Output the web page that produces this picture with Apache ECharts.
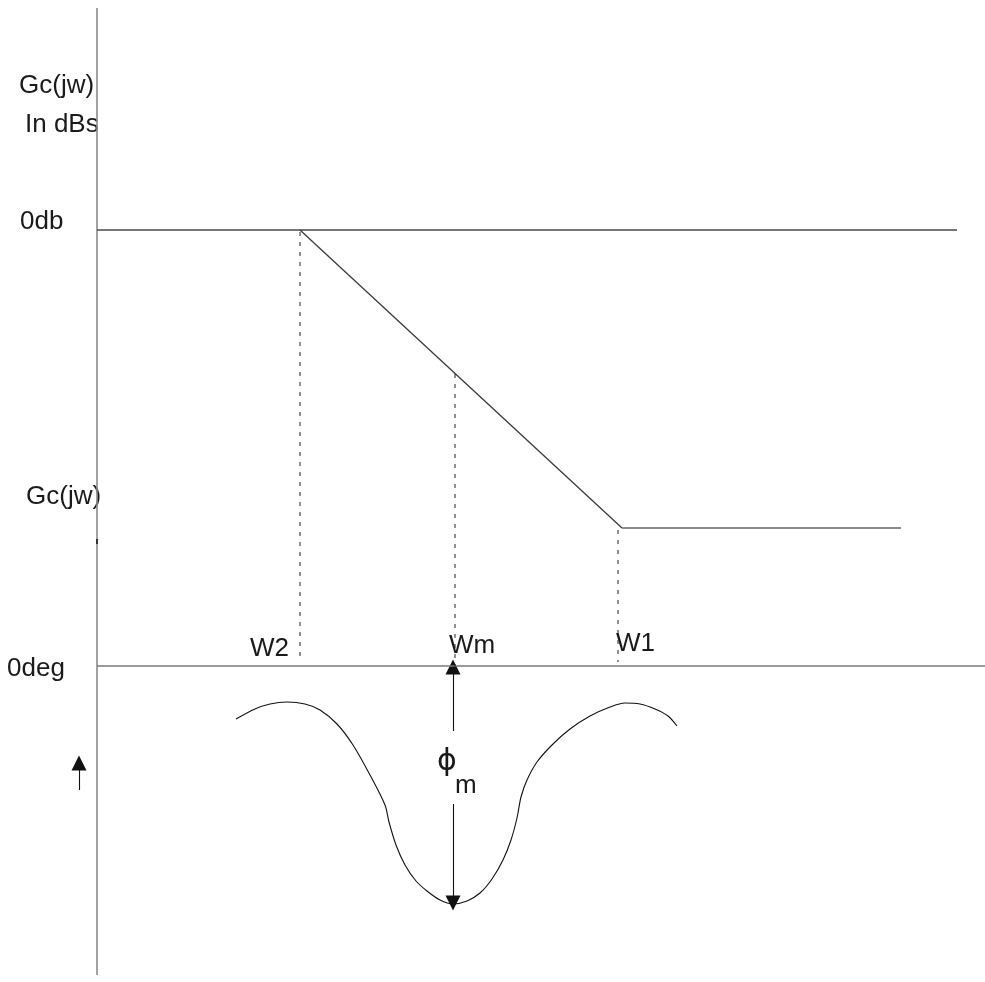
<!DOCTYPE html>
<html><head><meta charset="utf-8">
<script src="https://cdn.jsdelivr.net/npm/echarts@6/dist/echarts.min.js"></script>
<style>html,body{margin:0;padding:0;background:#fff}#c{width:985px;height:982px}</style>
</head><body><div id="c"></div>
<script>
// Diagram coordinates (x: frequency axis units, y: vertical units, downward)
const verticalAxis = [[97, 8], [97, 975]];
const axisMark = [[97, 539], [97, 544]];
const zeroDbLine = [[97, 230], [957, 230]];
const magnitudeSlope = [[300, 230], [622, 528]];
const magnitudeFlat = [[622, 528], [901, 528]];
const zeroDegLine = [[97, 666], [985, 666]];
const dashW2 = [[300, 232], [300, 660]];
const dashWm = [[455, 374], [455, 668]];
const dashW1 = [[618, 530], [618, 662]];
const phaseCurve = [
  [236, 719], [255, 709], [270, 704], [287, 702], [305, 704], [320, 710],
  [337, 724], [353, 745], [370, 775], [385, 805], [389, 822], [396, 845],
  [405, 865], [416, 881], [427, 891], [440, 900], [453, 904], [467, 901],
  [480, 893], [492, 879], [503, 860], [511, 840], [517, 818], [521, 797],
  [527, 780], [537, 762], [552, 745], [570, 729], [590, 716], [610, 707],
  [625, 703], [640, 704], [655, 709], [668, 716], [677, 726]
];
const phiArrowUp = [[453, 731], [453, 667]];
const phiArrowDown = [[453, 804], [453, 903]];
const smallArrow = [[79, 790], [79, 763]];
const labels = [
  ['Gc(jw)', 19, 86],
  ['In dBs', 25, 125],
  ['0db', 20, 222],
  ['Gc(jw)', 26, 497],
  ['0deg', 7, 669],
  ['W2', 250, 649],
  ['Wm', 449, 646],
  ['W1', 616, 644],
  ['m', 455, 786]
];
const phiSymbol = [['ϕ', 447, 762]];

function seg(data, color, width, dash) {
  return {
    type: 'line', data: data, symbol: 'none', silent: true, animation: false,
    lineStyle: { color: color, width: width, type: dash ? [4, 6] : 'solid', opacity: 1 }
  };
}
const chart = echarts.init(document.getElementById('c'));
chart.setOption({
  animation: false,
  grid: { left: 0, right: 0, top: 0, bottom: 0 },
  xAxis: { type: 'value', min: 0, max: 985, show: false },
  yAxis: { type: 'value', min: 0, max: 982, inverse: true, show: false },
  series: [
    seg(verticalAxis, '#8a8a8a', 1.6),
    seg(axisMark, '#333', 2),
    seg(zeroDbLine, '#4a4a4a', 1.3),
    seg(magnitudeSlope, '#3a3a3a', 1.3),
    seg(magnitudeFlat, '#8a8a8a', 2),
    seg(zeroDegLine, '#7a7a7a', 1.6),
    seg(dashW2, '#222', 1, true),
    seg(dashWm, '#222', 1, true),
    seg(dashW1, '#222', 1, true),
    Object.assign(seg(phaseCurve, '#111', 1.1), { smooth: 0.3 }),
    {
      type: 'lines', coordinateSystem: 'cartesian2d', silent: true, animation: false,
      symbol: ['none', 'triangle'], symbolSize: [12, 15],
      lineStyle: { color: '#111', width: 1.1, opacity: 1 },
      data: [{ coords: phiArrowUp }, { coords: phiArrowDown }, { coords: smallArrow }]
    },
    {
      type: 'scatter', symbolSize: 0, silent: true, animation: false,
      itemStyle: { opacity: 1 },
      data: labels.map(l => ({ value: [l[1], l[2]], name: l[0] })),
      label: {
        show: true, position: 'inside', align: 'left', verticalAlign: 'middle',
        formatter: p => p.name, color: '#1a1a1a', fontSize: 26, opacity: 1,
        fontFamily: 'Liberation Sans'
      }
    },
    {
      type: 'scatter', symbolSize: 0, silent: true, animation: false,
      itemStyle: { opacity: 1 },
      data: phiSymbol.map(l => ({ value: [l[1], l[2]], name: l[0] })),
      label: {
        show: true, position: 'inside', align: 'center', verticalAlign: 'middle',
        formatter: p => p.name, color: '#1a1a1a', fontSize: 30, opacity: 1,
        fontFamily: 'DejaVu Sans'
      }
    }
  ]
});
</script></body></html>
